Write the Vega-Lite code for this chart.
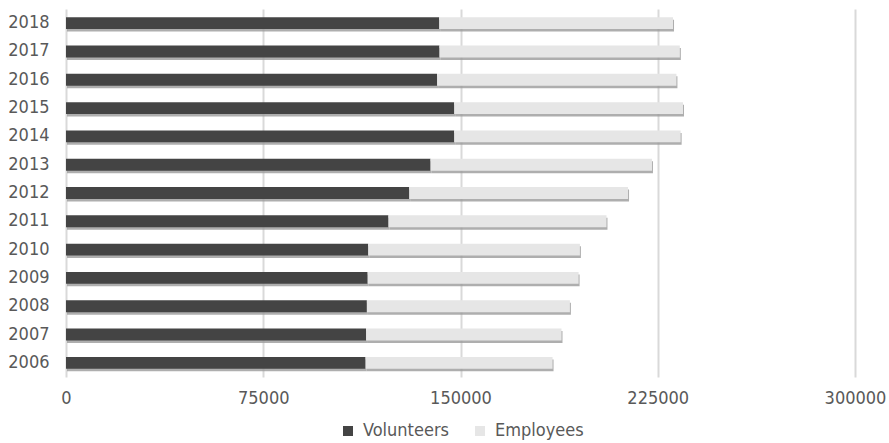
{
  "$schema": "https://vega.github.io/schema/vega-lite/v6.json",
  "width": 789,
  "height": 368,
  "autosize": {"type": "none"},
  "padding": {"left": 66, "top": 9, "right": 34, "bottom": 66},
  "background": "white",
  "config": {
    "view": {"stroke": null},
    "font": "DejaVu Sans Condensed",
    "axis": {"labelColor": "#595959", "labelFontSize": 18, "labelFont": "DejaVu Sans Condensed"}
  },
  "data": {
    "values": [
      {"year": "2018", "group": "Volunteers", "ord": 1, "value": 141900},
      {"year": "2018", "group": "Employees", "ord": 2, "value": 88900},
      {"year": "2017", "group": "Volunteers", "ord": 1, "value": 142000},
      {"year": "2017", "group": "Employees", "ord": 2, "value": 91400},
      {"year": "2016", "group": "Volunteers", "ord": 1, "value": 141100},
      {"year": "2016", "group": "Employees", "ord": 2, "value": 91000},
      {"year": "2015", "group": "Volunteers", "ord": 1, "value": 147600},
      {"year": "2015", "group": "Employees", "ord": 2, "value": 87000},
      {"year": "2014", "group": "Volunteers", "ord": 1, "value": 147600},
      {"year": "2014", "group": "Employees", "ord": 2, "value": 86100},
      {"year": "2013", "group": "Volunteers", "ord": 1, "value": 138600},
      {"year": "2013", "group": "Employees", "ord": 2, "value": 84200},
      {"year": "2012", "group": "Volunteers", "ord": 1, "value": 130500},
      {"year": "2012", "group": "Employees", "ord": 2, "value": 83200},
      {"year": "2011", "group": "Volunteers", "ord": 1, "value": 122600},
      {"year": "2011", "group": "Employees", "ord": 2, "value": 82900},
      {"year": "2010", "group": "Volunteers", "ord": 1, "value": 114900},
      {"year": "2010", "group": "Employees", "ord": 2, "value": 80500},
      {"year": "2009", "group": "Volunteers", "ord": 1, "value": 114700},
      {"year": "2009", "group": "Employees", "ord": 2, "value": 80200},
      {"year": "2008", "group": "Volunteers", "ord": 1, "value": 114400},
      {"year": "2008", "group": "Employees", "ord": 2, "value": 77200},
      {"year": "2007", "group": "Volunteers", "ord": 1, "value": 114100},
      {"year": "2007", "group": "Employees", "ord": 2, "value": 74300},
      {"year": "2006", "group": "Volunteers", "ord": 1, "value": 113900},
      {"year": "2006", "group": "Employees", "ord": 2, "value": 71100}
    ]
  },
  "encoding": {
    "y": {
      "field": "year", "type": "ordinal", "sort": "descending",
      "scale": {"paddingInner": 0.58, "paddingOuter": 0.29},
      "axis": {"title": null, "domain": false, "ticks": false, "labelPadding": 17, "grid": false}
    },
    "x": {
      "field": "value", "type": "quantitative", "stack": "zero",
      "scale": {"domain": [0, 300000], "nice": false},
      "axis": {"title": null, "values": [0, 75000, 150000, 225000, 300000], "format": "d", "domain": false, "ticks": false, "labelPadding": 12, "grid": true, "gridColor": "#d9d9d9", "gridWidth": 2, "labelFlush": false}
    },
    "order": {"field": "ord", "type": "quantitative"}
  },
  "layer": [
    {
      "mark": {"type": "bar", "color": "#9a9a9a", "yOffset": 2.5, "xOffset": 1, "opacity": 0.8}
    },
    {
      "mark": {"type": "bar"},
      "encoding": {
        "color": {
          "field": "group", "type": "nominal",
          "scale": {"domain": ["Volunteers", "Employees"], "range": ["#444444", "#e6e6e6"]},
          "legend": {"title": null, "orient": "none", "legendX": 273, "legendY": 413, "direction": "horizontal", "labelFontSize": 18, "labelColor": "#595959", "symbolType": "square", "symbolSize": 100, "symbolStrokeWidth": 0, "columnPadding": 22, "labelOffset": 6, "labelFont": "DejaVu Sans Condensed"}
        }
      }
    }
  ]
}
